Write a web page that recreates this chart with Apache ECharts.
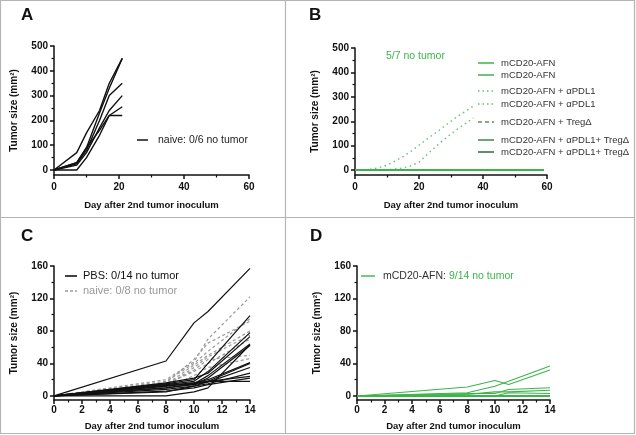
<!DOCTYPE html>
<html><head><meta charset="utf-8">
<script src="https://cdn.jsdelivr.net/npm/echarts@6/dist/echarts.min.js"></script>
<style>html,body{margin:0;padding:0;background:#fff}#c{width:636px;height:435px}</style>
</head><body><div id="c"></div>
<script>
// ---------- Panel A: naive mice ----------
const daysA = [0, 7, 10, 14, 17, 21];
const naiveA1 = [0, 70, 150, 240, 350, 450];
const naiveA2 = [0, 30, 90, 230, 330, 450];
const naiveA3 = [0, 25, 80, 200, 300, 350];
const naiveA4 = [0, 20, 70, 170, 240, 300];
const naiveA5 = [0, 30, 90, 160, 220, 255];
const naiveA6 = [0, 0, 50, 140, 220, 220];
const xTicksAB = [0, 20, 40, 60];
const yTicksAB = [0, 100, 200, 300, 400, 500];
const yMinorAB = [50, 150, 250, 350, 450];

// ---------- Panel B: treated groups ----------
const daysBZero = [0, 7, 14, 21, 28, 35, 42, 49, 56, 59];
const zeroB = [0, 0, 0, 0, 0, 0, 0, 0, 0, 0];
const daysBPdl1a = [0, 4, 7, 10, 12.5, 15, 17.5, 20, 23, 26, 29, 32, 35, 37];
const pdl1B1 = [0, 2, 8, 20, 37, 55, 77, 102, 132, 160, 190, 220, 245, 262];
const daysBPdl1b = [0, 10, 14.5, 17, 20, 23, 26, 29, 32, 35, 37];
const pdl1B2 = [0, 1, 8, 15, 32, 70, 105, 138, 168, 195, 214];

// ---------- Panel C: PBS vs naive ----------
const daysC = [0, 8, 10, 11, 14];
const pbsC = [
  [0, 43, 90, 104, 157],
  [0, 15, 20, 40, 99],
  [0, 14, 18, 30, 78],
  [0, 16, 22, 28, 73],
  [0, 10, 15, 25, 64],
  [0, 15, 14, 22, 62],
  [0, 12, 16, 20, 41],
  [0, 8, 12, 18, 40],
  [0, 10, 14, 17, 35],
  [0, 5, 12, 15, 28],
  [0, 13, 15, 18, 24],
  [0, 6, 10, 14, 22],
  [0, 12, 16, 18, 18],
  [0, 0, 5, 10, 63]
];
const naiveC = [
  [0, 20, 42, 70, 122],
  [0, 18, 40, 55, 95],
  [0, 16, 45, 65, 92],
  [0, 14, 38, 50, 80],
  [0, 12, 35, 48, 75],
  [0, 15, 30, 40, 70],
  [0, 13, 32, 45, 50],
  [0, 10, 25, 35, 46]
];
const xTicksCD = [0, 2, 4, 6, 8, 10, 12, 14];
const yTicksCD = [0, 40, 80, 120, 160];
const yMinorCD = [20, 60, 100, 140];

// ---------- Panel D: mCD20-AFN ----------
const daysD = [0, 8, 10, 11, 14];
const afnD = [
  [0, 11, 19, 14, 32],
  [0, 4, 12, 18, 37],
  [0, 3, 3, 8, 10],
  [0, 2, 5, 5, 7],
  [0, 1, 0, 4, 3],
  [0, 0, 0, 0, 0],
  [0, 0, 0, 0, 0],
  [0, 0, 0, 0, 0],
  [0, 0, 0, 0, 0],
  [0, 0, 0, 0, 0],
  [0, 0, 0, 0, 0],
  [0, 0, 0, 0, 0],
  [0, 0, 0, 0, 0],
  [0, 0, 0, 0, 0]
];

const GREEN = '#3cb54b';
const GREEN_LIGHT = '#62c36f';
const GREEN_DASH = '#5e8f66';
const GREEN_DARK1 = '#3a8a47';
const GREEN_DARK2 = '#2c6b37';
const FONT = 'Liberation Sans, Arial, sans-serif';

function pairs(days, vals) { return days.map((d, i) => [d, vals[i]]); }
function line(name, days, vals, idx, color, width, type, z) {
  return {
    name, type: 'line', xAxisIndex: idx, yAxisIndex: idx * 2,
    data: pairs(days, vals), symbol: 'none', silent: true, animation: false,
    lineStyle: { color, width, type: type || 'solid' }, z: z || 2
  };
}

const grids = [
  { left: 54, top: 46, width: 195, height: 129 },
  { left: 355, top: 48, width: 192, height: 127 },
  { left: 54, top: 266, width: 196, height: 134 },
  { left: 357, top: 266, width: 193, height: 134 }
];

const axisCol = '#111';
function xAxis(i, max, interval, nameGap, labelMargin) {
  return {
    gridIndex: i, type: 'value', min: 0, max, interval,
    axisLine: { show: true, onZero: false, lineStyle: { color: axisCol, width: 1.5 } },
    axisTick: { show: true, length: 4, lineStyle: { color: axisCol, width: 1.5 } },
    minorTick: { show: true, splitNumber: 2, length: 2.5, lineStyle: { color: axisCol, width: 1.2 } },
    splitLine: { show: false },
    axisLabel: { color: '#111', fontWeight: 'bold', fontSize: 10, fontFamily: FONT, margin: labelMargin },
    name: 'Day after 2nd tumor inoculum', nameLocation: 'middle', nameGap,
    nameTextStyle: { color: '#111', fontWeight: 'bold', fontSize: 9.5, fontFamily: FONT }
  };
}
function yAxes(i, min, max, ticks, minor) {
  return [{
    gridIndex: i, type: 'value', min, max, position: 'left',
    axisLine: { show: true, onZero: false, lineStyle: { color: axisCol, width: 1.5 } },
    axisTick: { show: true, length: 4, customValues: ticks, lineStyle: { color: axisCol, width: 1.5 } },
    splitLine: { show: false },
    axisLabel: { customValues: ticks, color: '#111', fontWeight: 'bold', fontSize: 10, fontFamily: FONT, margin: 6 },
    name: 'Tumor size (mm²)', nameLocation: 'middle', nameRotate: 90, nameGap: 35,
    nameTextStyle: { color: '#111', fontWeight: 'bold', fontSize: 10, fontFamily: FONT }
  }, {
    gridIndex: i, type: 'value', min, max, position: 'left', offset: 0,
    axisLine: { show: false },
    axisTick: { show: true, length: 2.5, customValues: minor, lineStyle: { color: axisCol, width: 1.2 } },
    splitLine: { show: false },
    axisLabel: { show: false }
  }];
}

const series = [];
// A
[naiveA1, naiveA2, naiveA3, naiveA4, naiveA5, naiveA6].forEach((v, k) =>
  series.push(line('naive A' + k, daysA, v, 0, '#111', 1.4)));
// B (dark ones first so bright green ends on top)
series.push(line('mCD20-AFN + αPDL1+ TregΔ a', daysBZero, zeroB, 1, GREEN_DARK2, 1.5));
series.push(line('mCD20-AFN + αPDL1+ TregΔ b', daysBZero, zeroB, 1, GREEN_DARK1, 1.5));
series.push(line('mCD20-AFN + TregΔ', daysBZero, zeroB, 1, GREEN_DASH, 1.5, 'dashed'));
series.push(line('mCD20-AFN + αPDL1 a', daysBPdl1a, pdl1B1, 1, GREEN_LIGHT, 1.4, [1.5, 3.5]));
series.push(line('mCD20-AFN + αPDL1 b', daysBPdl1b, pdl1B2, 1, GREEN_LIGHT, 1.4, [1.5, 3.5]));
series.push(line('mCD20-AFN a', daysBZero, zeroB, 1, GREEN, 1.6, 'solid', 3));
series.push(line('mCD20-AFN b', daysBZero, zeroB, 1, GREEN, 1.6, 'solid', 3));
// C
naiveC.forEach((v, k) => series.push(line('naive C' + k, daysC, v, 2, '#9a9a9a', 1.2, [3, 2.5], 2)));
pbsC.forEach((v, k) => series.push(line('PBS C' + k, daysC, v, 2, '#111', 1.2, 'solid', 3)));
// D
afnD.forEach((v, k) => series.push(line('mCD20-AFN D' + k, daysD, v, 3, GREEN, 1.1)));

const yAx = [].concat(
  yAxes(0, -20, 500, yTicksAB, yMinorAB),
  yAxes(1, -20, 500, yTicksAB, yMinorAB),
  yAxes(2, -5, 160, yTicksCD, yMinorCD),
  yAxes(3, -5, 160, yTicksCD, yMinorCD)
);

function hline(x1, x2, y, color, width, dash) {
  return { type: 'line', shape: { x1, y1: y, x2, y2: y }, style: { stroke: color, lineWidth: width, lineDash: dash || null }, silent: true };
}
function txt(x, y, text, fill, size, weight, extra) {
  return Object.assign({ type: 'text', x, y, style: { text, fill, fontSize: size, fontWeight: weight || 'normal', fontFamily: FONT, verticalAlign: 'middle', align: 'left' }, silent: true }, extra || {});
}

const legendB = [
  ['mCD20-AFN', GREEN, 'solid', 63],
  ['mCD20-AFN', GREEN, 'solid', 75],
  ['mCD20-AFN + αPDL1', GREEN_LIGHT, [1.5, 3], 91],
  ['mCD20-AFN + αPDL1', GREEN_LIGHT, [1.5, 3], 104],
  ['mCD20-AFN + TregΔ', GREEN_DASH, [4, 3], 122],
  ['mCD20-AFN + αPDL1+ TregΔ', GREEN_DARK1, 'solid', 140],
  ['mCD20-AFN + αPDL1+ TregΔ', GREEN_DARK2, 'solid', 152]
];

const graphic = [
  { type: 'rect', shape: { x: 0.5, y: 0.5, width: 634, height: 433 }, style: { fill: 'none', stroke: '#b5b5b5', lineWidth: 1.2 }, silent: true },
  { type: 'line', shape: { x1: 285.5, y1: 0, x2: 285.5, y2: 434 }, style: { stroke: '#b5b5b5', lineWidth: 1.2 }, silent: true },
  { type: 'line', shape: { x1: 0, y1: 217.5, x2: 635, y2: 217.5 }, style: { stroke: '#b5b5b5', lineWidth: 1.2 }, silent: true },
  txt(21, 15, 'A', '#111', 17, 'bold'),
  txt(309, 15, 'B', '#111', 17, 'bold'),
  txt(21, 236, 'C', '#111', 17, 'bold'),
  txt(310, 236, 'D', '#111', 17, 'bold'),
  // A legend
  hline(137, 148, 140, '#111', 1.5),
  txt(158, 140, 'naive: 0/6 no tumor', '#222', 10.5),
  // B annotation + legend
  txt(386, 56, '5/7 no tumor', GREEN, 10.5),
  // C legend
  hline(65, 77, 276, '#111', 1.6),
  txt(83, 276, 'PBS: 0/14 no tumor', '#111', 11),
  hline(65, 77, 291, '#9a9a9a', 1.3, [3, 2]),
  txt(83, 291, 'naive: 0/8 no tumor', '#9a9a9a', 11),
  // D legend
  hline(361, 375, 276, GREEN, 1.4),
  {
    type: 'text', x: 383, y: 276, silent: true,
    style: {
      text: '{a|mCD20-AFN: }{b|9/14 no tumor}', verticalAlign: 'middle', align: 'left',
      rich: {
        a: { fill: '#333', fontSize: 10.5, fontFamily: FONT },
        b: { fill: GREEN, fontSize: 10.5, fontFamily: FONT }
      }
    }
  }
];
legendB.forEach(([t, c, d, y]) => {
  graphic.push(hline(478, 494, y, c, 1.5, d === 'solid' ? null : d));
  graphic.push(txt(501, y, t, '#333', 9.5));
});

const chart = echarts.init(document.getElementById('c'), null, { renderer: 'canvas' });
chart.setOption({
  animation: false,
  backgroundColor: '#fff',
  grid: grids,
  xAxis: [xAxis(0, 60, 20, 25, 7), xAxis(1, 60, 20, 25, 7), xAxis(2, 14, 2, 21, 5), xAxis(3, 14, 2, 21, 5)],
  yAxis: yAx,
  series,
  graphic
});
</script>
</body></html>
